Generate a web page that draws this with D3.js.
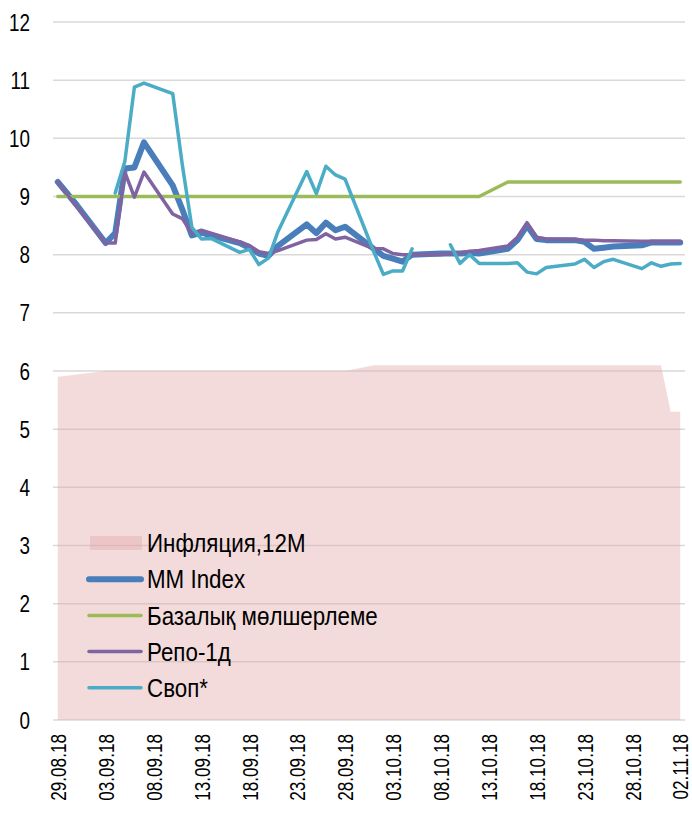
<!DOCTYPE html>
<html lang="kk">
<head>
<meta charset="UTF-8">
<title>MM Index</title>
<style>
  html, body { margin: 0; background: #fff; }
  text { font-family: "Liberation Sans", Arial, sans-serif; fill: #000; }
  .grid line { stroke: #d9d9d9; stroke-width: 1.5px; }
  .line { fill: none; stroke-linejoin: round; stroke-linecap: round; }
</style>
</head>
<body>
<svg id="chart" width="692" height="823" viewBox="0 0 692 823"></svg>
<script src="https://cdn.jsdelivr.net/npm/d3@7"></script>
<script>
// business days, 30.08 is a holiday
const dates = ["29.08.18","31.08.18","03.09.18","04.09.18","05.09.18","06.09.18","07.09.18",
  "10.09.18","11.09.18","12.09.18","13.09.18","14.09.18","17.09.18","18.09.18","19.09.18",
  "20.09.18","21.09.18","24.09.18","25.09.18","26.09.18","27.09.18","28.09.18","01.10.18",
  "02.10.18","03.10.18","04.10.18","05.10.18","08.10.18","09.10.18","10.10.18","11.10.18",
  "12.10.18","15.10.18","16.10.18","17.10.18","18.10.18","19.10.18","22.10.18","23.10.18",
  "24.10.18","25.10.18","26.10.18","29.10.18","30.10.18","31.10.18","01.11.18","02.11.18"];

const inflation = [5.9,5.94,6.0,6.0,6.0,6.0,6.0, 6.0,6.0,6.0,6.0,6.0,6.0,6.0,6.0,
  6.0,6.0,6.0,6.0,6.0,6.0,6.0,6.1, 6.1,6.1,6.1,6.1,6.1,6.1,6.1,6.1,
  6.1,6.1,6.1,6.1,6.1,6.1,6.1,6.1, 6.1,6.1,6.1,6.1,6.1,6.1,5.3,5.3];

const mmIndex = [9.25,8.85,8.2,8.37,9.48,9.5,9.93, 9.19,8.78,8.33,8.38,8.33,8.2,8.12,8.02,
  7.98,8.15,8.52,8.37,8.55,8.42,8.48,8.1, 7.98,7.93,7.88,8.0,8.02,8.02,8.02,8.03,
  8.02,8.1,8.25,8.5,8.27,8.25,8.25,8.22, 8.1,8.12,8.14,8.16,8.21,8.21,8.21,8.21];

const baseRate = [9,9,9,9,9,9,9, 9,9,9,9,9,9,9,9, 9,9,9,9,9,9,9,9, 9,9,9,9,9,9,9,9,
  9,9.25,9.25,9.25,9.25,9.25,9.25,9.25, 9.25,9.25,9.25,9.25,9.25,9.25,9.25,9.25];

const repo = [9.25,8.82,8.2,8.2,9.42,8.99,9.42, 8.7,8.62,8.37,8.42,8.37,8.22,8.16,8.05,
  8.02,8.07,8.25,8.26,8.36,8.27,8.3,8.1, 8.1,8.02,8.0,8.0,8.0,8.02,8.03,8.06,
  8.07,8.15,8.3,8.55,8.3,8.27,8.26,8.25, 8.25,8.24,8.24,8.23,8.23,8.23,8.23,8.23];

const swap = [null,null,null,9.06,9.6,10.88,10.95, 10.77,9.55,8.47,8.27,8.28,8.04,8.09,7.83,
  7.94,8.4,9.43,9.05,9.52,9.37,9.3,8.05, 7.66,7.72,7.72,8.1,null,8.17,7.85,8.0,
  7.85,7.85,7.86,7.7,7.67,7.78,7.84,7.92, 7.78,7.88,7.92,7.76,7.86,7.8,7.84,7.85];

const yTicks = [0,1,2,3,4,5,6,7,8,9,10,11,12];
const xTickLabels = ["29.08.18","03.09.18","08.09.18","13.09.18","18.09.18","23.09.18","28.09.18",
  "03.10.18","08.10.18","13.10.18","18.10.18","23.10.18","28.10.18","02.11.18"];

const seriesNames = ["Инфляция,12М","MM Index","Базалық мөлшерлеме","Репо-1д","Своп*"];
const colors = {infl: "rgba(226,170,170,0.42)", mm: "#4a7ebb", base: "#9bbb59", repo: "#8064a2", swap: "#4bacc6"};

// no narrow font installed, so squeeze text horizontally
const narrowY = 0.82, narrowX = 0.78, narrowLeg = 0.86;

const parse = d3.timeParse("%d.%m.%y");
const fmt = d3.timeFormat("%d.%m.%y");
const days = dates.map(parse);

const svg = d3.select("#chart");
const halfDay = 12 * 3600 * 1000;
const x = d3.scaleTime()
  .domain([+parse("29.08.18") - halfDay, +parse("02.11.18") + halfDay])
  .range([53, 685]);
const y = d3.scaleLinear().domain([0, 12]).range([720, 22]);

// gridlines
svg.append("g").attr("class", "grid")
  .selectAll("line").data(yTicks).join("line")
  .attr("x1", x.range()[0]).attr("x2", x.range()[1])
  .attr("y1", d => y(d)).attr("y2", d => y(d));

// y axis labels
const yAxis = d3.axisLeft(y).tickValues(yTicks).tickSize(0).tickPadding(0).tickFormat(d3.format("d"));
svg.append("g").attr("transform", "translate(30,0)").call(yAxis)
  .call(g => g.select(".domain").remove())
  .selectAll("text").style("font-size", "23px").attr("fill", "#000")
  .attr("x", 0).attr("dy", "0.35em")
  .attr("transform", `scale(${narrowY},1)`);

// x axis labels
const xAxis = d3.axisBottom(x).tickValues(xTickLabels.map(parse)).tickSize(0).tickFormat(fmt);
svg.append("g").attr("transform", "translate(0,734)").call(xAxis)
  .call(g => g.select(".domain").remove())
  .selectAll("text")
  .style("font-size", "22px").attr("fill", "#000")
  .attr("transform", `rotate(-90) scale(${narrowX},1)`)
  .attr("text-anchor", "end")
  .attr("x", 0).attr("y", 0).attr("dy", "0.35em");

// inflation area
const area = d3.area().x((d, i) => x(days[i])).y0(y(0)).y1(d => y(d));
svg.append("path").datum(inflation).attr("d", area).attr("fill", colors.infl);

const line = d3.line().defined(d => d != null).x((d, i) => x(days[i])).y(d => y(d));
function drawLine(values, color, w) {
  svg.append("path").datum(values).attr("class", "line")
    .attr("d", line).attr("stroke", color).attr("stroke-width", w);
}
drawLine(mmIndex, colors.mm, 6);
drawLine(baseRate, colors.base, 3.5);
drawLine(repo, colors.repo, 3.5);
drawLine(swap, colors.swap, 3.5);

// legend
const lg = svg.append("g").attr("transform", "translate(88,543)");
const rowH = 36.2;
lg.append("rect").attr("x", 2).attr("y", -7).attr("width", 52).attr("height", 14).attr("fill", colors.infl);
const legendLines = [[colors.mm, 6], [colors.base, 3.5], [colors.repo, 3.5], [colors.swap, 3.5]];
legendLines.forEach((l, i) => {
  lg.append("line").attr("x1", 1).attr("x2", 53)
    .attr("y1", (i + 1) * rowH).attr("y2", (i + 1) * rowH)
    .attr("stroke", l[0]).attr("stroke-width", l[1]).attr("stroke-linecap", "round");
});
lg.selectAll("text.lab").data(seriesNames).join("text").attr("class", "lab")
  .attr("transform", (d, i) => `translate(59,${i * rowH}) scale(${narrowLeg},1)`)
  .attr("dy", "0.35em")
  .style("font-size", "26px").text(d => d);
</script>
</body>
</html>
